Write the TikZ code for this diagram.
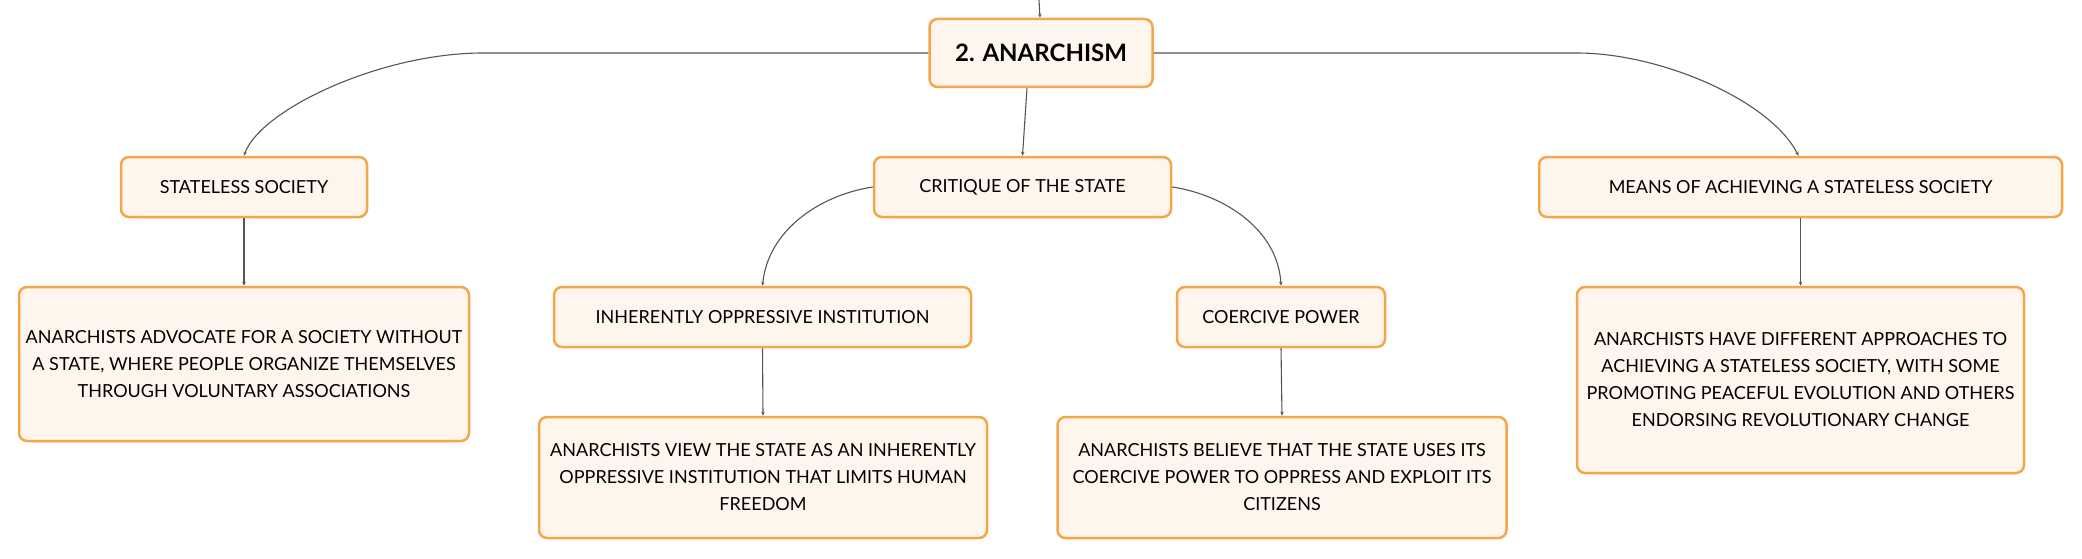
\documentclass[tikz,border=0pt]{standalone}
\usepackage{fontspec}
\setmainfont{Lato}
\usetikzlibrary{arrows.meta}
\definecolor{boxline}{HTML}{F4A64B}
\definecolor{boxfill}{HTML}{FEF5EC}
\definecolor{linkcol}{HTML}{555555}
\tikzset{
  topic/.style={draw=boxline, fill=boxfill, line width=2.5pt, rounded corners=8pt,
    align=center, inner sep=0pt, font=\fontsize{18}{27}\selectfont, text=black},
  link/.style={draw=linkcol, line width=1.1pt, -{Stealth[length=4pt,width=3.5pt]}},
}
\begin{document}
\begin{tikzpicture}[x=1pt,y=-1pt]
\useasboundingbox (0,0) rectangle (2082,559);
\node[topic, minimum width=223pt, minimum height=68pt, font=\fontsize{24}{28}\selectfont\bfseries] (anar) at (1041,53) {2. ANARCHISM};
\node[topic, minimum width=246pt, minimum height=60pt] (ss) at (244,187) {STATELESS SOCIETY};
\node[topic, minimum width=297pt, minimum height=60pt] (crit) at (1022.5,187) {CRITIQUE OF THE STATE};
\node[topic, minimum width=523pt, minimum height=60pt] (means) at (1800.5,187) {MEANS OF ACHIEVING A STATELESS SOCIETY};
\node[topic, minimum width=450pt, minimum height=154pt] (ssd) at (244,364) {ANARCHISTS ADVOCATE FOR A SOCIETY WITHOUT\\A STATE, WHERE PEOPLE ORGANIZE THEMSELVES\\THROUGH VOLUNTARY ASSOCIATIONS};
\node[topic, minimum width=417pt, minimum height=60pt] (inh) at (762.5,317) {INHERENTLY OPPRESSIVE INSTITUTION};
\node[topic, minimum width=208pt, minimum height=60pt] (coer) at (1281,317) {COERCIVE POWER};
\node[topic, minimum width=448pt, minimum height=121pt] (inhd) at (763,477.5) {ANARCHISTS VIEW THE STATE AS AN INHERENTLY\\OPPRESSIVE INSTITUTION THAT LIMITS HUMAN\\FREEDOM};
\node[topic, minimum width=449pt, minimum height=121pt] (coerd) at (1282,477.5) {ANARCHISTS BELIEVE THAT THE STATE USES ITS\\COERCIVE POWER TO OPPRESS AND EXPLOIT ITS\\CITIZENS};
\node[topic, minimum width=447pt, minimum height=186pt] (meansd) at (1800.5,380) {ANARCHISTS HAVE DIFFERENT APPROACHES TO\\ACHIEVING A STATELESS SOCIETY, WITH SOME\\PROMOTING PEACEFUL EVOLUTION AND OTHERS\\ENDORSING REVOLUTIONARY CHANGE};
\coordinate (topin) at (1039,0);
\draw[link] (topin) -- ([xshift=-1pt]anar.north);
\draw[link] (anar.west) -- (483,53) .. controls (380,53) and (260,110) .. (ss.north);
\draw[link] (anar.east) -- (1577,53) .. controls (1660,53) and (1770,100) .. ([xshift=-2pt]means.north);
\draw[link] ([xshift=-14pt]anar.south) -- (crit.north);
\draw[link] (crit.west) .. controls (820,195) and (768,230) .. (inh.north);
\draw[link] (crit.east) .. controls (1225,195) and (1278,230) .. (coer.north);
\draw[link] (ss.south) -- (ssd.north);
\draw[link] (inh.south) -- (inhd.north);
\draw[link] (coer.south) -- (coerd.north);
\draw[link] (means.south) -- (meansd.north);
\end{tikzpicture}
\end{document}
